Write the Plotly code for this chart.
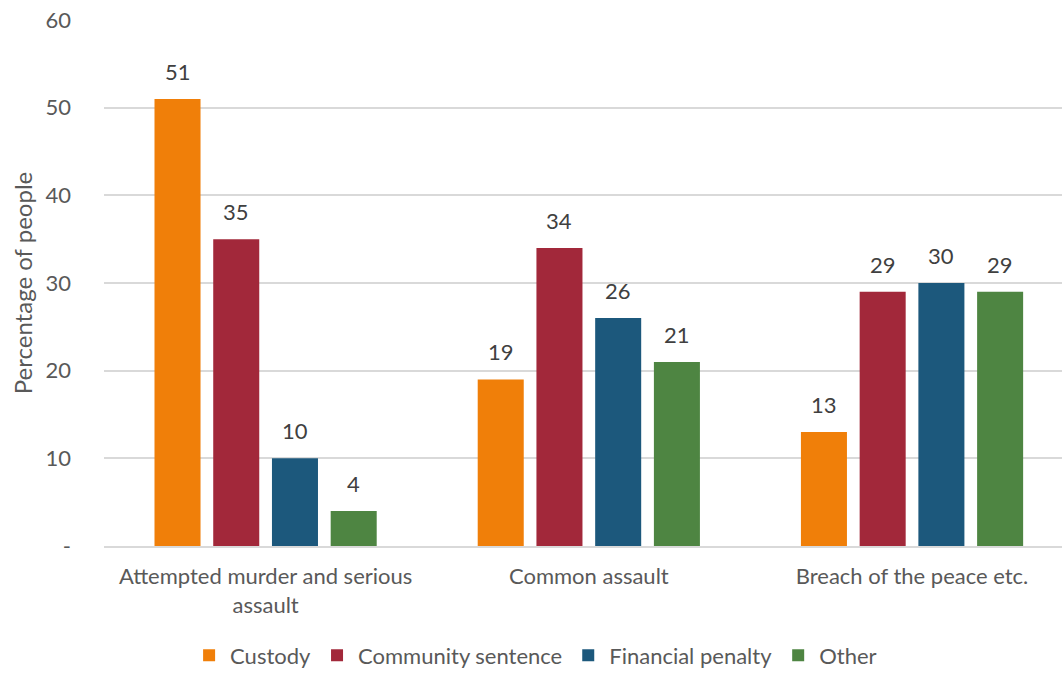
import plotly.graph_objects as go

categories = ["Attempted murder and serious<br>assault", "Common assault", "Breach of the peace etc."]
series_names = ["Custody", "Community sentence", "Financial penalty", "Other"]
custody = [51, 19, 13]
community = [35, 34, 29]
financial = [10, 26, 30]
other = [4, 21, 29]
colors = ["#F07F09", "#A2283A", "#1C587C", "#4E8542"]
y_tickvals = [0, 10, 20, 30, 40, 50, 60]
y_ticktext = ["-", "10", "20", "30", "40", "50", "60"]

FONT = "Lato, 'Open Sans', sans-serif"
FS = 22
BAR_W = 0.1424
PITCH = 0.1817

fig = go.Figure()
xs = list(range(len(categories)))
for i, (name, vals, col) in enumerate(zip(series_names, [custody, community, financial, other], colors)):
    off = (i - 1.5) * PITCH
    fig.add_trace(go.Bar(
        name=name, x=xs, y=vals, marker_color=col, marker_line_width=0,
        width=BAR_W, offset=off - BAR_W / 2,
    ))
    for x, v in zip(xs, vals):
        fig.add_annotation(x=x + off, y=v, xref="x", yref="y", text=str(v), showarrow=False,
                           yanchor="bottom", yshift=12,
                           font=dict(color="#404040", size=FS, family=FONT))

fig.update_layout(
    width=1062, height=675,
    margin=dict(l=104, r=0, t=20, b=129, autoexpand=False),
    paper_bgcolor="white", plot_bgcolor="white",
    barmode="overlay",
    font=dict(family=FONT, color="#595959", size=FS),
    legend=dict(orientation="h", x=0.45, xanchor="center", y=-0.208, yanchor="middle",
                font=dict(size=FS, color="#595959"), itemwidth=32, traceorder="normal"),
    showlegend=True,
)
fig.update_xaxes(
    tickmode="array", tickvals=xs, ticktext=categories, automargin=False,
    range=[-0.5, 2.464], showgrid=False, showline=True, linecolor="#d9d9d9", linewidth=2,
    ticks="", tickfont=dict(size=FS, color="#595959"), ticklabelstandoff=10,
)
fig.update_yaxes(
    range=[0, 60], tickvals=y_tickvals, ticktext=y_ticktext, automargin=False,
    showgrid=True, gridcolor="#d9d9d9", gridwidth=1.5, zeroline=False,
    ticks="", tickfont=dict(size=FS, color="#595959"), ticklabelstandoff=32,
    title=dict(text="Percentage of people", font=dict(size=24, color="#595959"), standoff=6),
)
fig.write_html("out.html")
